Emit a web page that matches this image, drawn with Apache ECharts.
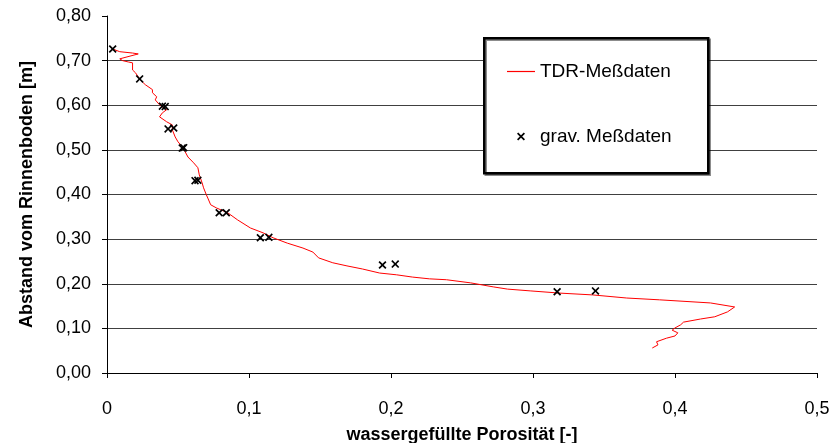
<!DOCTYPE html>
<html><head><meta charset="utf-8">
<script src="https://cdn.jsdelivr.net/npm/echarts@6/dist/echarts.min.js"></script>
<style>html,body{margin:0;padding:0;background:#fff}#c{width:831px;height:443px}</style>
</head><body><div id="c"></div>
<script>
// TDR-Meßdaten: porosity (x) and height above channel bottom (y)
const tdrX = [0.004,0.009,0.018,0.022,0.009,0.011,0.012,0.015,0.018,0.018,0.020,0.023,0.025,0.027,0.032,0.032,0.035,0.034,0.037,0.039,0.042,0.039,0.037,0.042,0.046,0.046,0.048,0.050,0.053,0.055,0.057,0.061,0.064,0.065,0.067,0.068,0.070,0.071,0.073,0.077,0.085,0.092,0.101,0.110,0.117,0.127,0.138,0.145,0.149,0.159,0.169,0.180,0.192,0.204,0.215,0.227,0.239,0.256,0.272,0.282,0.298,0.319,0.342,0.366,0.389,0.425,0.442,0.437,0.428,0.418,0.406,0.404,0.400,0.398,0.402,0.400,0.394,0.387,0.388,0.384];
const tdrY = [0.726,0.720,0.717,0.715,0.704,0.700,0.704,0.697,0.695,0.679,0.673,0.659,0.652,0.646,0.635,0.628,0.619,0.612,0.601,0.596,0.590,0.583,0.574,0.563,0.556,0.545,0.529,0.518,0.507,0.496,0.484,0.471,0.460,0.444,0.426,0.415,0.399,0.392,0.377,0.370,0.359,0.343,0.325,0.314,0.303,0.291,0.280,0.271,0.258,0.247,0.240,0.233,0.224,0.220,0.215,0.211,0.209,0.202,0.193,0.188,0.184,0.179,0.175,0.168,0.164,0.157,0.148,0.137,0.126,0.121,0.114,0.108,0.101,0.096,0.090,0.083,0.078,0.070,0.063,0.056];
// grav. Meßdaten
const gravX = [0.004,0.023,0.039,0.041,0.043,0.047,0.053,0.054,0.062,0.064,0.079,0.084,0.108,0.114,0.194,0.203,0.317,0.344];
const gravY = [0.726,0.659,0.598,0.597,0.547,0.549,0.504,0.505,0.431,0.432,0.359,0.359,0.303,0.304,0.242,0.244,0.182,0.184];
const xTicks = ['0','0,1','0,2','0,3','0,4','0,5'];
const yTicks = ['0,00','0,10','0,20','0,30','0,40','0,50','0,60','0,70','0,80'];

const FONT = 'Liberation Sans, Arial, sans-serif';
const crossPath = 'path://M0,1.5L1.5,0L5,3.5L8.5,0L10,1.5L6.5,5L10,8.5L8.5,10L5,6.5L1.5,10L0,8.5L3.5,5Z';
const chart = echarts.init(document.getElementById('c'));
const gridCol = '#404040';
chart.setOption({
  animation: false,
  backgroundColor: '#fff',
  grid: {left: 107, right: 14, top: 16, bottom: 70, containLabel: false, outerBoundsMode: 'none'},
  xAxis: {
    type: 'value', min: 0, max: 0.5, interval: 0.1,
    axisLine: {show: true, lineStyle: {color: '#000', width: 1}},
    axisTick: {show: true, length: 5, lineStyle: {color: '#000'}},
    splitLine: {show: false},
    axisLabel: {color: '#000', fontFamily: FONT, fontSize: 18, margin: 27,
      formatter: (v) => xTicks[Math.round(v * 10)]},
    name: 'wassergefüllte Porosität [-]', nameLocation: 'middle', nameGap: 53,
    nameTextStyle: {color: '#000', fontFamily: FONT, fontSize: 18, fontWeight: 'bold'}
  },
  yAxis: {
    type: 'value', min: 0, max: 0.8, interval: 0.1,
    axisLine: {show: true, lineStyle: {color: '#000', width: 1}},
    axisTick: {show: true, length: 5, lineStyle: {color: '#000'}},
    splitLine: {show: true, lineStyle: {color: [gridCol,gridCol,gridCol,gridCol,gridCol,gridCol,gridCol,gridCol,'rgba(0,0,0,0)'], width: 1}},
    axisLabel: {color: '#000', fontFamily: FONT, fontSize: 18, margin: 16,
      formatter: (v) => yTicks[Math.round(v * 10)]},
    name: 'Abstand vom Rinnenboden [m]', nameLocation: 'middle', nameGap: 71, nameRotate: 90,
    nameTextStyle: {color: '#000', fontFamily: FONT, fontSize: 18, fontWeight: 'bold'}
  },
  graphic: [{
    type: 'rect', z: 3, left: 483, top: 37,
    shape: {width: 224, height: 135},
    style: {fill: '#fff', stroke: '#000', lineWidth: 2.5, shadowColor: 'rgba(0,0,0,0.45)', shadowOffsetX: 1.5, shadowOffsetY: 1.5, shadowBlur: 0}
  }],
  legend: [{
    z: 10, left: 507, top: 62, padding: 0,
    data: [{name: 'TDR-Meßdaten', icon: 'rect'}],
    itemWidth: 28, itemHeight: 1.2,
    textStyle: {color: '#000', fontFamily: FONT, fontSize: 19}
  }, {
    z: 10, left: 517, top: 127, padding: 0,
    data: [{name: 'grav. Meßdaten', icon: crossPath}],
    itemWidth: 8, itemHeight: 8,
    itemStyle: {color: '#000'},
    textStyle: {color: '#000', fontFamily: FONT, fontSize: 19, padding: [0, 0, 0, 10]}
  }],
  series: [{
    name: 'TDR-Meßdaten', type: 'line', z: 2,
    data: tdrX.map((x, i) => [x, tdrY[i]]),
    showSymbol: false, symbol: 'none',
    lineStyle: {color: '#ff0000', width: 1},
    itemStyle: {color: '#ff0000'}
  }, {
    name: 'grav. Meßdaten', type: 'scatter', z: 4,
    data: gravX.map((x, i) => [x, gravY[i]]),
    symbol: crossPath, symbolSize: 8,
    itemStyle: {color: '#000', opacity: 1}
  }]
});
</script></body></html>
